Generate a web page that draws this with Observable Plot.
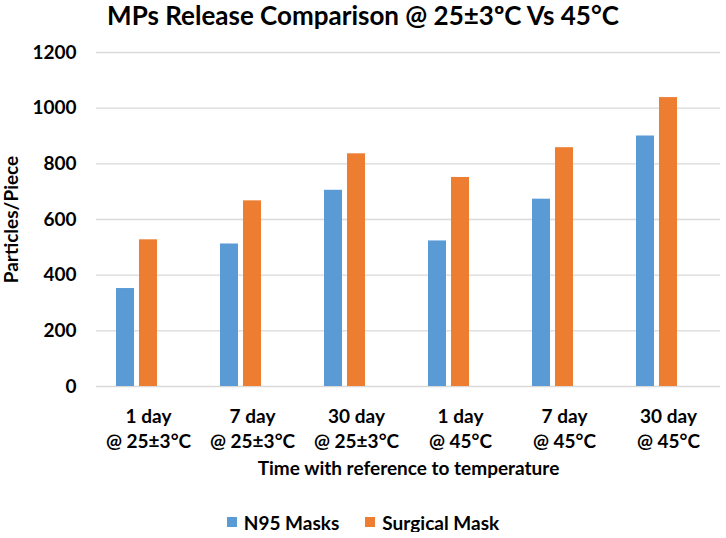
<!DOCTYPE html>
<html><head><meta charset="utf-8">
<script src="https://cdn.jsdelivr.net/npm/d3@7"></script>
<script src="https://cdn.jsdelivr.net/npm/@observablehq/plot@0.6"></script>
<style>
body{margin:0;background:#fff;font-family:Lato,"Open Sans",sans-serif;color:#000;width:726px;}
#title{height:34px;text-align:center;font-weight:bold;font-size:26px;line-height:30px;white-space:nowrap;padding-left:-3px;}
#legend{margin-top:22px;height:20px;display:flex;justify-content:center;align-items:center;gap:26px;font-weight:bold;font-size:19px;}
#legend span.item{display:flex;align-items:center;gap:7px;}
#legend span.sw{display:inline-block;width:10px;height:10px;}
</style></head><body>
<div id="title">MPs Release Comparison @ 25±3ºC Vs 45°C</div>
<div id="chart"></div>
<div id="legend"></div>
<script>
const categories = ["1 day\n@ 25±3°C","7 day\n@ 25±3°C","30 day\n@ 25±3°C","1 day\n@ 45°C","7 day\n@ 45°C","30 day\n@ 45°C"];
const series = ["N95 Masks","Surgical Mask"];
const n95 = [352, 512, 705, 523, 673, 900];
const surgical = [527, 667, 836, 751, 858, 1038];
const yTicks = [0, 200, 400, 600, 800, 1000, 1200];
const colors = ["#5B9BD5", "#ED7D31"];
const xTitle = "Time with reference to temperature";
const yTitle = "Particles/Piece";

const data = categories.flatMap((c, i) => [
  {cat: c, series: series[0], value: n95[i]},
  {cat: c, series: series[1], value: surgical[i]}
]);

const chart = Plot.plot({
  width: 726, height: 456,
  marginLeft: 95, marginRight: 5, marginTop: 18, marginBottom: 104,
  style: {fontFamily: "Lato, 'Open Sans', sans-serif", color: "#000", background: "#fff"},
  fx: {domain: categories, padding: 0},
  x: {domain: [...series, "(empty)"], paddingInner: 0.215, paddingOuter: 0.846, axis: null},
  y: {domain: [0, 1200]},
  color: {domain: series, range: colors},
  marks: [
    Plot.gridY(yTicks, {stroke: "#d9d9d9", strokeOpacity: 1, strokeWidth: 1.3}),
    Plot.barY(data, {fx: "cat", x: "series", y: "value", fill: "series"}),
    Plot.axisY(yTicks, {tickSize: 0, tickPadding: 20, fontSize: 19, fontWeight: "bold", tickFormat: d => String(d),
      label: yTitle, labelAnchor: "center", labelOffset: 92, labelArrow: "none"}),
    Plot.axisFx({anchor: "bottom", tickSize: 0, tickPadding: 19, fontSize: 19, fontWeight: "bold", lineHeight: 1.32,
      label: xTitle, labelAnchor: "center", labelOffset: 88, labelArrow: "none"})
  ]
});
document.getElementById("chart").appendChild(chart);

const legend = document.getElementById("legend");
series.forEach((s, i) => {
  const item = document.createElement("span");
  item.className = "item";
  const sw = document.createElement("span");
  sw.className = "sw";
  sw.style.background = colors[i];
  item.appendChild(sw);
  item.appendChild(document.createTextNode(s));
  legend.appendChild(item);
});
</script>
</body></html>
